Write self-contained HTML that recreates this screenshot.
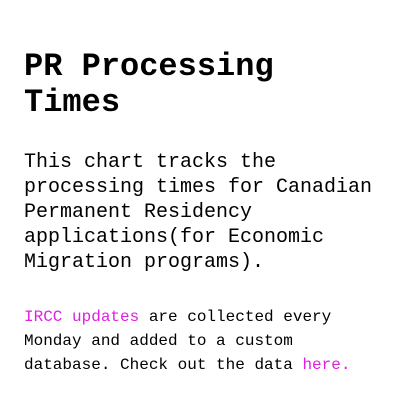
<!DOCTYPE html>
<html><head><meta charset="utf-8"><style>
html,body{margin:0;padding:0;width:400px;height:400px;background:#fff;overflow:hidden}
body{font-family:"Liberation Mono",monospace;color:#000;position:relative}
.t{position:absolute;left:24px;top:49px;font-size:32px;line-height:36px;font-weight:bold;margin:0}
.p{position:absolute;left:24px;top:150px;font-size:20px;line-height:25px;margin:0}
.s{position:absolute;left:24px;top:305px;font-size:16px;line-height:24px;margin:0}
a{color:#e020e0;text-decoration:none}
</style></head><body>
<h1 class="t">PR Processing<br>Times</h1>
<p class="p">This chart tracks the<br>processing times for Canadian<br>Permanent Residency<br>applications(for Economic<br>Migration programs).</p>
<p class="s"><a href="#">IRCC updates</a> are collected every<br>Monday and added to a custom<br>database. Check out the data <a href="#">here.</a></p>
</body></html>
